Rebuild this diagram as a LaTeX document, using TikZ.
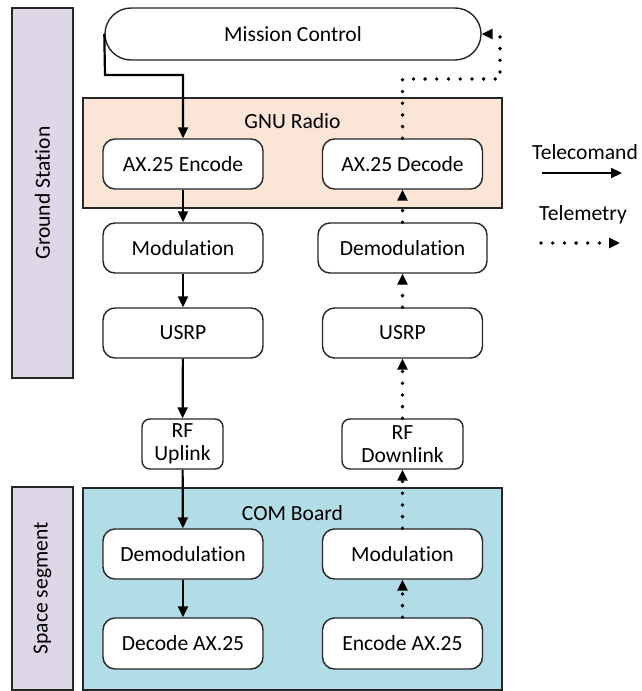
\documentclass[tikz,border=0pt]{standalone}
\usepackage{fontspec}
\setmainfont{Carlito}[Ligatures=NoCommon]
\usetikzlibrary{arrows.meta}

\definecolor{gsbar}{RGB}{221,215,231}
\definecolor{peach}{RGB}{251,229,214}
\definecolor{comblue}{RGB}{178,220,230}
\definecolor{edge}{RGB}{38,38,38}

\tikzset{
  region/.style={draw=edge, line width=1.4pt},
  block/.style={draw=edge, line width=1.4pt, fill=white, rounded corners=12pt,
                inner sep=0pt, align=center},
  tc/.style={line width=2.2pt, -{Triangle[length=11pt,width=10pt]}},
  tm/.style={line width=3.8pt, line cap=round, dash pattern=on 0pt off 11.7pt,
             -{Triangle[length=11pt,width=10pt]}},
}

\begin{document}
\begin{tikzpicture}[x=1pt, y=-1pt, font=\fontsize{21.6}{25}\selectfont]
\useasboundingbox (0,0) rectangle (642,691);

% side bars
\node[region, fill=gsbar, rotate=90, minimum width=370, minimum height=61,
      inner sep=0pt] (gs) at (42.5,193) {Ground Station};
\node[region, fill=gsbar, rotate=90, minimum width=203, minimum height=61,
      inner sep=0pt] (ss) at (42.5,588.5) {Space segment};

% group boxes
\draw[region, fill=peach] (83,98) rectangle (502,208);
\node (gnu) at (292.5,121) {GNU Radio};
\draw[region, fill=comblue] (83,488) rectangle (502,690);
\node (com) at (292.5,513) {COM Board};

% mission control
\node[block, rounded corners=26pt, minimum width=376, minimum height=52]
  (mc) at (293,34) {Mission Control};

% uplink column
\node[block, minimum width=160, minimum height=50] (enc)   at (183,164) {AX.25 Encode};
\node[block, minimum width=160, minimum height=50] (modg)  at (183,248) {Modulation};
\node[block, minimum width=160, minimum height=50] (usrpu) at (183,333) {USRP};
\node[block, rounded corners=8pt, minimum width=81, minimum height=50]
  (rfu) at (182.5,444) {RF\\[-2pt]Uplink};
\node[block, minimum width=160, minimum height=50] (demods) at (183,554) {Demodulation};
\node[block, minimum width=160, minimum height=51] (decs)   at (183,643.5) {Decode AX.25};

% downlink column
\node[block, minimum width=160, minimum height=50] (dec)   at (402.5,164) {AX.25 Decode};
\node[block, minimum width=169, minimum height=50] (demodg) at (402.5,248) {Demodulation};
\node[block, minimum width=160, minimum height=50] (usrpd) at (402.5,333) {USRP};
\node[block, rounded corners=8pt, minimum width=121, minimum height=50]
  (rfd) at (402.5,444) {RF\\[-2pt]Downlink};
\node[block, minimum width=160, minimum height=50] (mods)  at (402.5,554) {Modulation};
\node[block, minimum width=160, minimum height=51] (encs)  at (402.5,643.5) {Encode AX.25};

% telecommand path
\coordinate (tcbend) at (105,75);
\draw[tc] (mc.west) -- (tcbend) -| (enc.north);
\draw[tc] (enc) -- (modg);
\draw[tc] (modg) -- (usrpu);
\draw[tc] (usrpu) -- (rfu);
\draw[tc] (rfu) -- (demods);
\draw[tc] (demods) -- (decs);

% telemetry path
\draw[tm] (encs) -- (mods);
\draw[tm] (mods) -- (rfd);
\draw[tm] (rfd) -- (usrpd);
\draw[tm] (usrpd) -- (demodg);
\draw[tm] (demodg) -- (dec);
\coordinate (tmbend) at (500,79);
\draw[tm] (dec.north) |- (tmbend) -- (tmbend |- mc.east) -- (mc.east);

% legend
\node (lgtc) at (585,152) {Telecomand};
\coordinate (lgtca) at (542,173);
\coordinate (lgtcb) at (622,173);
\draw[tc] (lgtca) -- (lgtcb);
\node (lgtm) at (583,215) {Telemetry};
\coordinate (lgtma) at (541,243);
\coordinate (lgtmb) at (620,243);
\draw[tm] (lgtma) -- (lgtmb);
\end{tikzpicture}
\end{document}
